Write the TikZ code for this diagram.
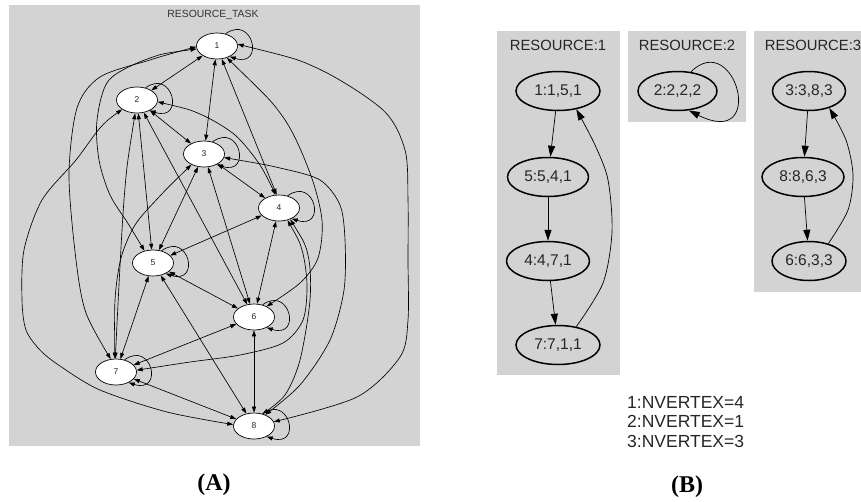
\documentclass[tikz,border=0pt]{standalone}
\usepackage{fontspec}
\setmainfont{Liberation Sans}
\newfontfamily\serifb{Liberation Serif}
\usetikzlibrary{arrows.meta,shapes.geometric,calc}
\definecolor{clgray}{HTML}{D3D3D3}
\tikzset{
  anode/.style={ellipse, draw=black, fill=white, line width=0.7pt, minimum width=41pt, minimum height=26pt, inner sep=0pt, text=black!85, font=\fontsize{8.5}{10}\selectfont},
  aedge/.style={line width=0.65pt, {Triangle[length=6pt,width=4pt]}-{Triangle[length=6pt,width=4pt]}},
  aloopst/.style={line width=0.65pt, -{Triangle[length=6pt,width=4pt]}},
  bnode/.style={ellipse, draw=black, line width=1.5pt, minimum height=39pt, inner sep=0pt, text=black!85, font=\fontsize{15.5}{18}\selectfont},
  bedge/.style={line width=0.7pt, -{Triangle[length=11pt,width=7pt]}},
  clabel/.style={text=black!85, font=\fontsize{14.8}{17}\selectfont},
  nvtext/.style={anchor=base west, inner sep=0pt, text=black!85, font=\fontsize{17.5}{20}\selectfont},
  panellabel/.style={font=\serifb\bfseries\fontsize{24}{28}\selectfont}
}
\newcommand\selfloopat[1]{\draw[aloopst] (#1.55) .. controls ($(#1)+(36,-32)$) and ($(#1)+(48,22)$) .. (#1.-40);}
\begin{document}
\begin{tikzpicture}[x=1pt,y=-1pt]
\useasboundingbox (0,0) rectangle (861,501);
\fill[white] (0,0) rectangle (861,501);
% ---------- panel A ----------
\fill[clgray] (9,5) rectangle (420,446);
\node[text=black!80, font=\fontsize{10.4}{12}\selectfont] (titleA) at (213,15) {RESOURCE\_TASK};
\node[anode] (n1) at (217,46) {1};
\node[anode] (n2) at (137,100) {2};
\node[anode] (n3) at (204,154) {3};
\node[anode] (n4) at (279,208) {4};
\node[anode] (n5) at (153,263) {5};
\node[anode] (n6) at (254,317) {6};
\node[anode] (n7) at (116,372) {7};
\node[anode] (n8) at (254,426) {8};
% self loops
\foreach \n in {n1,n2,n3,n4,n5,n6,n7,n8}{\selfloopat{\n}}
% straight edges
\draw[aedge] (n1) -- (n2);
\draw[aedge] (n1) -- (n3);
\draw[aedge] (n1.-70) -- (n4.100);
\draw[aedge] (n2) -- (n3);
\draw[aedge] (n2) -- (n5);
\draw[aedge] plot[smooth] coordinates {(n2.262) (124,200) (n7.93)};
\draw[aedge] (n2) -- (n6);
\draw[aedge] (n3) -- (n4);
\draw[aedge] (n3) -- (n5);
\draw[aedge] (n3) -- (n6);
\draw[aedge] (n4) -- (n5);
\draw[aedge] (n4) -- (n6);
\draw[aedge] (n5) -- (n6);
\draw[aedge] (n5) -- (n7);
\draw[aedge] (n5) -- (n8);
\draw[aedge] (n6) -- (n7);
\draw[aedge] (n6) -- (n8);
\draw[aedge] (n7) -- (n8);
% curved edges
\draw[aedge] plot[smooth] coordinates {(n1.188) (150,58) (109,80) (97,120) (99,160) (110,195) (129,225) (n5.125)};
\draw[aedge] plot[smooth] coordinates {(n1.182) (150,60) (100,77) (77,108) (69,175) (76,260) (86,313) (n7.112)};
\draw[aedge] plot[smooth] coordinates {(n1.5) (317,68) (383,110) (405,150) (408,200) (408,260) (408,320) (400,357) (357,397) (n8.12)};
\draw[aedge] plot[smooth] coordinates {(n1.-50) (283,117) (310,173) (322,220) (318,258) (300,283) (n6.40)};
\draw[aedge] plot[smooth] coordinates {(n2.-5) (200,114) (235,135) (260,165) (n4.105)};
\draw[aedge] plot[smooth] coordinates {(n2.212) (100,128) (76,160) (42,200) (24,250) (22,300) (26,330) (40,350) (60,366) (100,390) (167,412) (n8.176)};
\draw[aedge] plot[smooth] coordinates {(n3.220) (159,197) (135,225) (121,258) (115,300) (n7.95)};
\draw[aedge] plot[smooth] coordinates {(n3.-10) (280,168) (320,180) (340,205) (345,240) (344,290) (330,340) (300,385) (n8.45)};
\draw[aedge] plot[smooth] coordinates {(n4.-55) (302,250) (307,285) (303,320) (283,343) (240,355) (190,362) (n7.5)};
\draw[aedge] plot[smooth] coordinates {(n4.-45) (308,255) (310,300) (300,360) (285,395) (n8.55)};
\node[panellabel] (labA) at (214,485) {(A)};
% ---------- panel B ----------
\fill[clgray] (497,31) rectangle (620,375);
\fill[clgray] (628,31) rectangle (746,122);
\fill[clgray] (754,31) rectangle (870,292);
\node[clabel] (r1) at (558,45) {RESOURCE:1};
\node[clabel] (r2) at (687,45) {RESOURCE:2};
\node[clabel] (r3) at (813,45) {RESOURCE:3};
\node[bnode, minimum width=84pt] (b11) at (558,91) {1:1,5,1};
\node[bnode, minimum width=81pt] (b51) at (548,177) {5:5,4,1};
\node[bnode, minimum width=83pt] (b41) at (548,261) {4:4,7,1};
\node[bnode, minimum width=84pt] (b71) at (558,345) {7:7,1,1};
\node[bnode, minimum width=79pt] (b22) at (677.5,91) {2:2,2,2};
\node[bnode, minimum width=73pt] (b33) at (809,91) {3:3,8,3};
\node[bnode, minimum width=82pt] (b83) at (803,177) {8:8,6,3};
\node[bnode, minimum width=74pt] (b63) at (809,261) {6:6,3,3};
\draw[bedge] (b11) -- (b51);
\draw[bedge] (b51) -- (b41);
\draw[bedge] (b41) -- (b71);
\draw[bedge] plot[smooth] coordinates {(b71.45) (603,283) (612,232) (608,180) (595,145) (b11.-45)};
\draw[bedge] (b22.55) .. controls (735,28) and (768,150) .. (b22.-60);
\draw[bedge] (b33) -- (b83);
\draw[bedge] (b83) -- (b63);
\draw[bedge] plot[smooth] coordinates {(b63.42) (848,210) (853,175) (846,140) (b33.-40)};
\node[nvtext] (nv1) at (627,408) {1:NVERTEX=4};
\node[nvtext] (nv2) at (627,427.5) {2:NVERTEX=1};
\node[nvtext] (nv3) at (627,447) {3:NVERTEX=3};
\node[panellabel] (labB) at (687,487) {(B)};
\end{tikzpicture}
\end{document}
